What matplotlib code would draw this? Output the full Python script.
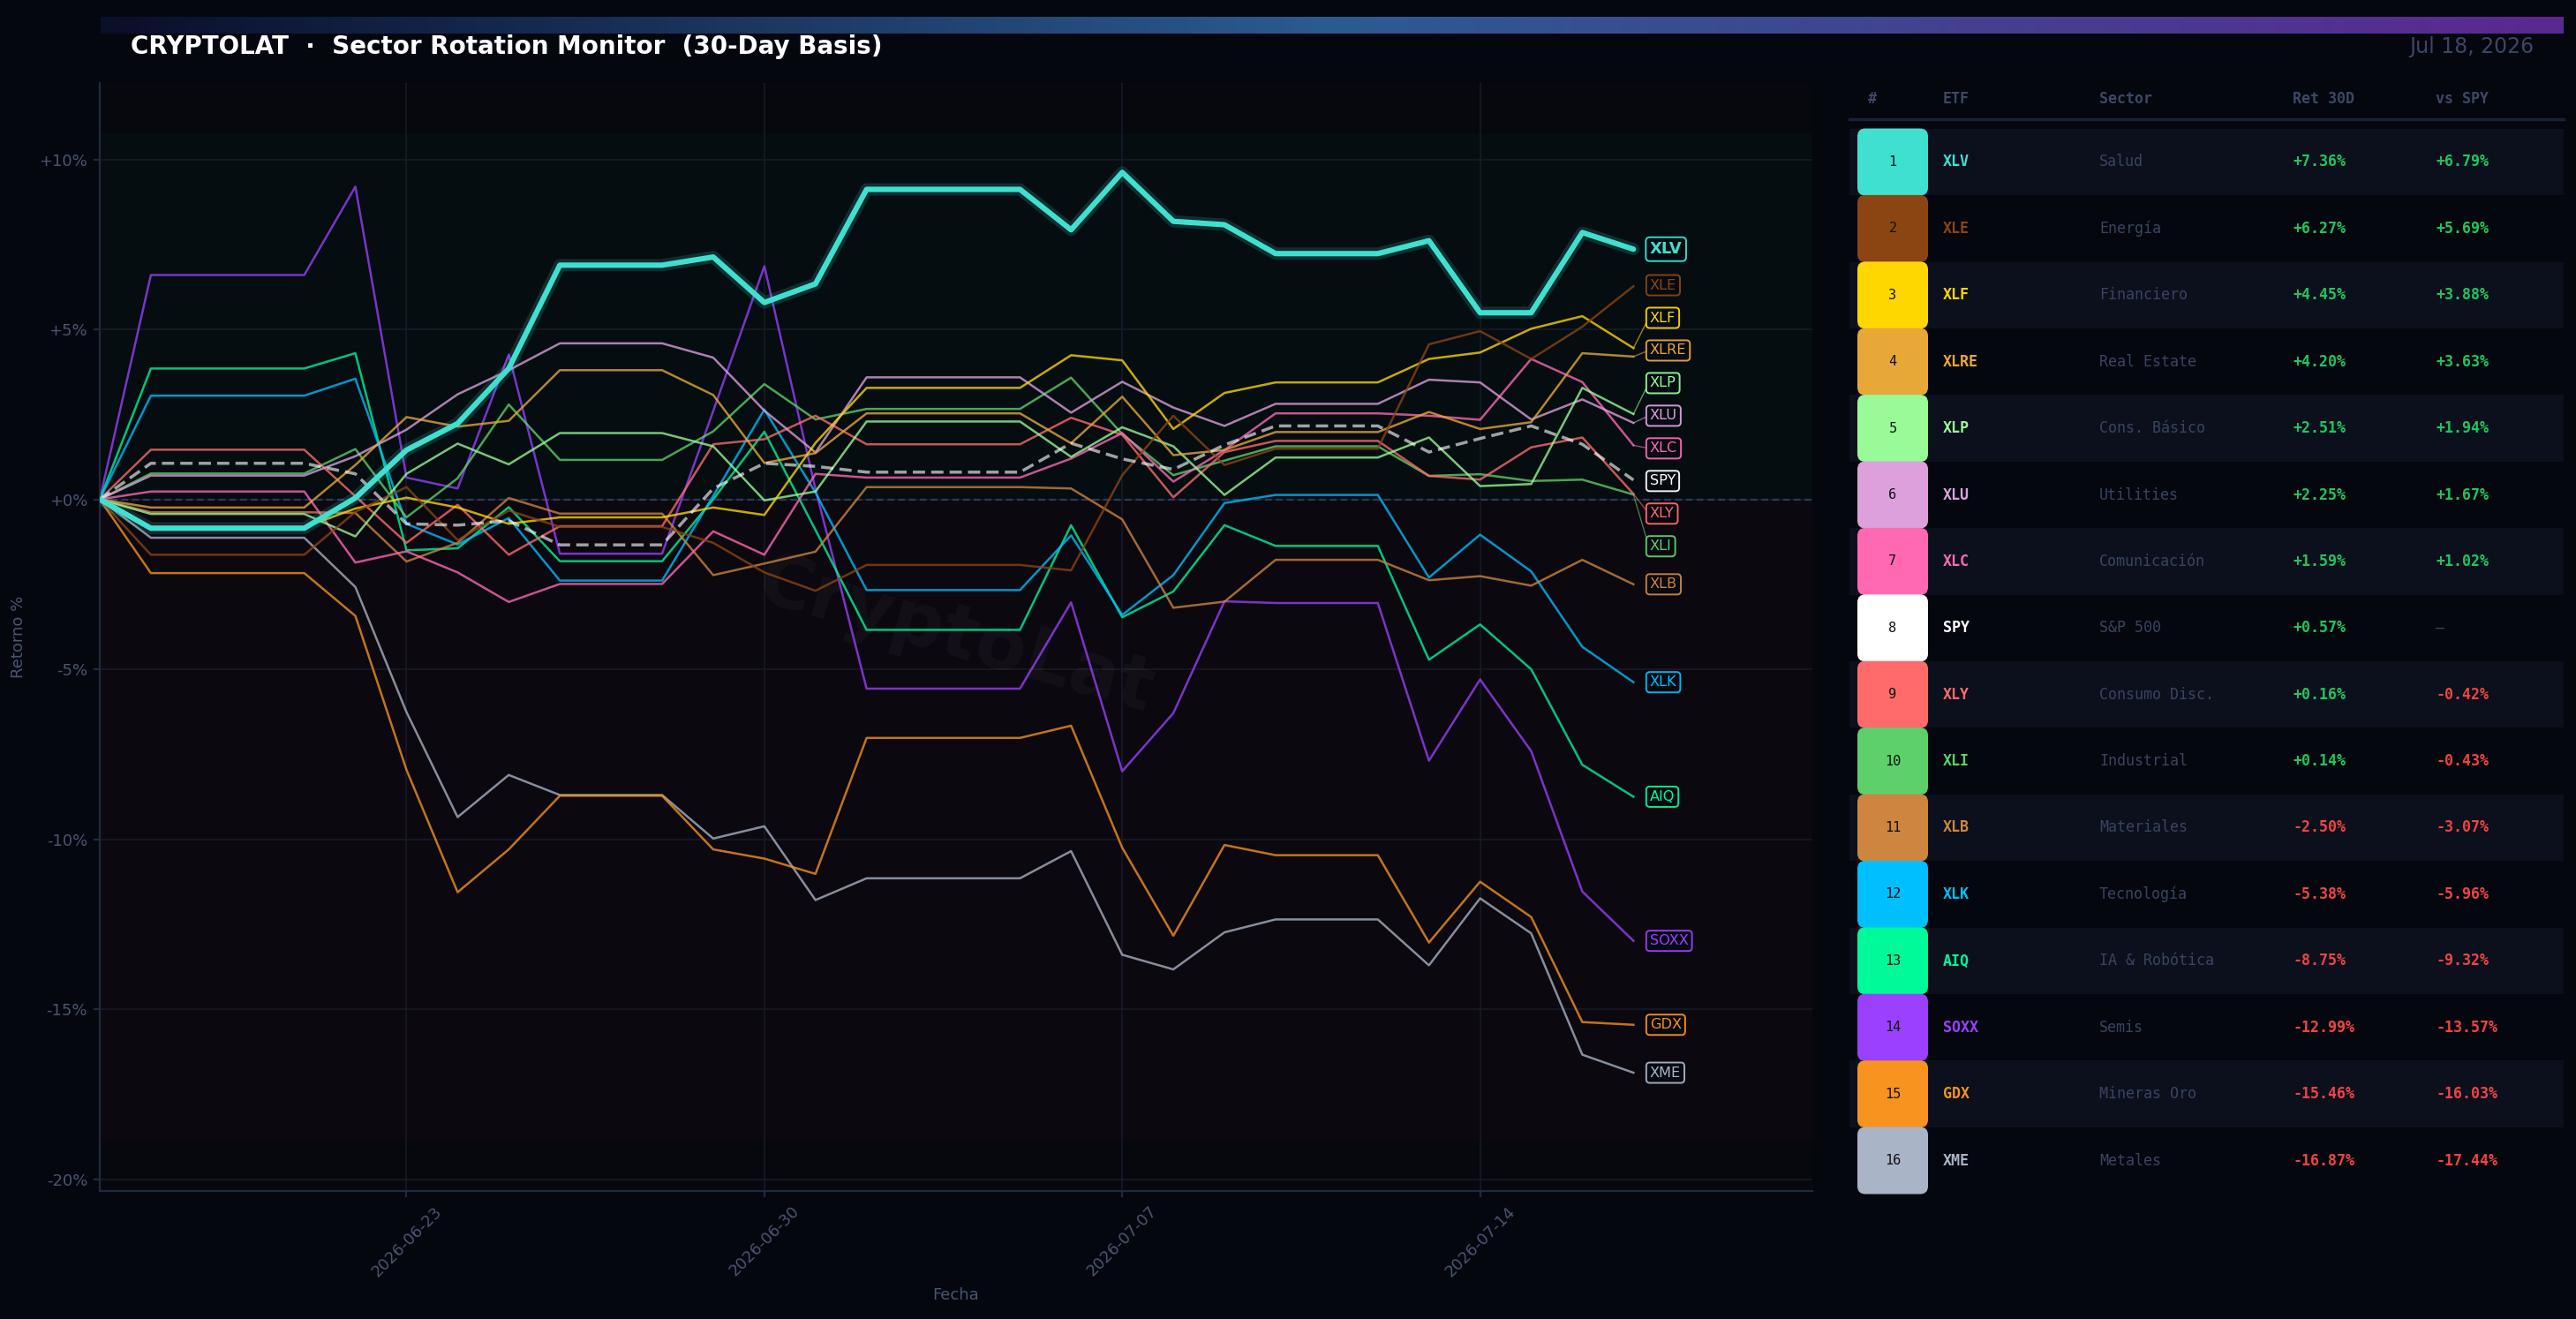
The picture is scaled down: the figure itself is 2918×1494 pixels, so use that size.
import numpy as np
import pandas as pd
import matplotlib
matplotlib.use("Agg")
import matplotlib.pyplot as plt
import matplotlib.dates as mdates
from matplotlib.patches import FancyBboxPatch, Rectangle
from matplotlib.colors import LinearSegmentedColormap

# ---------------- data ----------------
dates = pd.date_range("2026-06-17", "2026-07-17", freq="D")
tick_dates = ["2026-06-23", "2026-06-30", "2026-07-07", "2026-07-14"]

tickers = ["XLV", "XLE", "XLF", "XLRE", "XLP", "XLU", "XLC", "SPY",
           "XLY", "XLI", "XLB", "XLK", "AIQ", "SOXX", "GDX", "XME"]
sectors = ["Salud", "Energía", "Financiero", "Real Estate", "Cons. Básico",
           "Utilities", "Comunicación", "S&P 500", "Consumo Disc.", "Industrial",
           "Materiales", "Tecnología", "IA & Robótica", "Semis", "Mineras Oro", "Metales"]
colors = ["#40E0D0", "#8B4513", "#FFD700", "#E8A838", "#98FB98", "#DDA0DD",
          "#FF69B4", "#FFFFFF", "#FF6B6B", "#5ED06A", "#CD853F", "#00BFFF",
          "#00FA9A", "#9B40FF", "#F7931E", "#A9B4C6"]
ret_30d = [7.36, 6.27, 4.45, 4.20, 2.51, 2.25, 1.59, 0.57,
           0.16, 0.14, -2.50, -5.38, -8.75, -12.99, -15.46, -16.87]
vs_spy = [6.79, 5.69, 3.88, 3.63, 1.94, 1.67, 1.02, None,
          -0.42, -0.43, -3.07, -5.96, -9.32, -13.57, -16.03, -17.44]

xlv = [0, -0.85, -0.85, -0.85, -0.85, 0.04, 1.45, 2.23, 3.85, 6.89, 6.89, 6.89, 7.13, 5.79, 6.34,
       9.12, 9.12, 9.12, 9.12, 7.93, 9.62, 8.18, 8.08, 7.23, 7.23, 7.23, 7.61, 5.49, 5.49, 7.85, 7.36]
xle = [0, -1.63, -1.63, -1.63, -1.63, -0.37, 0.36, -1.20, -0.33, -0.81, -0.81, -0.81, -1.28, -2.15, -2.69,
       -1.93, -1.93, -1.93, -1.93, -2.09, 0.71, 2.46, 1.01, 1.49, 1.49, 1.49, 4.56, 4.95, 4.13, 5.08, 6.27]
xlf = [0, -0.82, -0.82, -0.82, -0.82, -0.27, 0.05, -0.24, -0.72, -0.53, -0.53, -0.53, -0.24, -0.46, 1.66,
       3.28, 3.28, 3.28, 3.28, 4.24, 4.09, 2.07, 3.13, 3.44, 3.44, 3.44, 4.13, 4.32, 5.02, 5.39, 4.45]
xlre = [0, -0.24, -0.24, -0.24, -0.24, 1.01, 2.42, 2.14, 2.31, 3.80, 3.80, 3.80, 3.07, 1.07, 1.36,
        2.53, 2.53, 2.53, 2.53, 1.65, 3.02, 1.30, 1.45, 1.98, 1.98, 1.98, 2.57, 2.07, 2.27, 4.30, 4.20]
xlp = [0, -0.43, -0.43, -0.43, -0.43, -1.09, 0.75, 1.64, 1.03, 1.95, 1.95, 1.95, 1.56, -0.03, 0.23,
       2.29, 2.29, 2.29, 2.29, 1.25, 2.12, 1.56, 0.13, 1.23, 1.23, 1.23, 1.82, 0.39, 0.45, 3.28, 2.51]
xlu = [0, 0.70, 0.70, 0.70, 0.70, 1.27, 2.05, 3.09, 3.80, 4.59, 4.59, 4.59, 4.17, 2.61, 1.38,
       3.59, 3.59, 3.59, 3.59, 2.55, 3.46, 2.70, 2.16, 2.81, 2.81, 2.81, 3.52, 3.44, 2.35, 2.94, 2.25]
xlc = [0, 0.23, 0.23, 0.23, 0.23, -1.86, -1.53, -2.15, -3.02, -2.49, -2.49, -2.49, -0.94, -1.63, 0.75,
       0.64, 0.64, 0.64, 0.64, 1.20, 1.95, 0.52, 1.45, 2.53, 2.53, 2.53, 2.46, 2.34, 4.13, 3.45, 1.59]
spy = [0, 1.06, 1.06, 1.06, 1.06, 0.75, -0.72, -0.76, -0.63, -1.34, -1.34, -1.34, 0.32, 1.06, 0.97,
       0.80, 0.80, 0.80, 0.80, 1.65, 1.19, 0.88, 1.60, 2.16, 2.16, 2.16, 1.39, 1.79, 2.16, 1.62, 0.57]
xly = [0, 1.46, 1.46, 1.46, 1.46, 0.09, -1.28, -0.16, -1.63, -0.79, -0.79, -0.79, 1.62, 1.77, 2.46,
       1.62, 1.62, 1.62, 1.62, 2.40, 1.90, 0.06, 1.39, 1.72, 1.72, 1.72, 0.69, 0.58, 1.53, 1.82, 0.16]
xli = [0, 0.76, 0.76, 0.76, 0.76, 1.48, -0.53, 0.62, 2.79, 1.16, 1.16, 1.16, 2.00, 3.39, 2.35,
       2.66, 2.66, 2.66, 2.66, 3.58, 1.92, 0.71, 1.14, 1.56, 1.56, 1.56, 0.69, 0.74, 0.54, 0.58, 0.14]
xlb = [0, -0.38, -0.38, -0.38, -0.38, -0.40, -1.83, -1.28, 0.04, -0.42, -0.42, -0.42, -2.23, -1.89, -1.54,
       0.36, 0.36, 0.36, 0.36, 0.32, -0.59, -3.19, -3.01, -1.78, -1.78, -1.78, -2.38, -2.26, -2.54, -1.78, -2.50]
xlk = [0, 3.05, 3.05, 3.05, 3.05, 3.55, -0.72, -1.33, -0.55, -2.39, -2.39, -2.39, 0.10, 2.64, 0.20,
       -2.67, -2.67, -2.67, -2.67, -1.06, -3.40, -2.23, -0.11, 0.13, 0.13, 0.13, -2.30, -1.04, -2.12, -4.34, -5.38]
aiq = [0, 3.85, 3.85, 3.85, 3.85, 4.30, -1.50, -1.44, -0.23, -1.82, -1.82, -1.82, 0.00, 1.99, -0.90,
       -3.84, -3.84, -3.84, -3.84, -0.76, -3.47, -2.71, -0.76, -1.37, -1.37, -1.37, -4.72, -3.68, -5.00, -7.81, -8.75]
soxx = [0, 6.60, 6.60, 6.60, 6.60, 9.20, 0.64, 0.32, 4.26, -1.60, -1.60, -1.60, 2.60, 6.86, 0.30,
        -5.57, -5.57, -5.57, -5.57, -3.03, -8.00, -6.29, -3.00, -3.05, -3.05, -3.05, -7.69, -5.30, -7.41, -11.54, -12.99]
gdx = [0, -2.17, -2.17, -2.17, -2.17, -3.43, -7.96, -11.56, -10.30, -8.72, -8.72, -8.72, -10.30, -10.57, -11.02,
       -7.02, -7.02, -7.02, -7.02, -6.66, -10.25, -12.84, -10.17, -10.47, -10.47, -10.47, -13.04, -11.25, -12.29, -15.38, -15.46]
xme = [0, -1.13, -1.13, -1.13, -1.13, -2.58, -6.26, -9.35, -8.11, -8.70, -8.70, -8.70, -9.98, -9.62, -11.79,
       -11.15, -11.15, -11.15, -11.15, -10.35, -13.40, -13.83, -12.74, -12.36, -12.36, -12.36, -13.71, -11.74, -12.77, -16.34, -16.87]

series = [xlv, xle, xlf, xlre, xlp, xlu, xlc, spy, xly, xli, xlb, xlk, aiq, soxx, gdx, xme]

# ---------------- style ----------------
BG = "#05070e"
AX_BG = "#06080e"
TXT_DIM = "#4a5573"
GRID = "#151b28"
SPINE = "#1f2a40"
MONO = "DejaVu Sans Mono"

W, H = 2918, 1494
def fx(px):
    return px / W
def fy(py):
    return 1 - py / H

fig = plt.figure(figsize=(W / 200, H / 200), dpi=200, facecolor=BG)

# gradient bar on top
gax = fig.add_axes([fx(114), fy(38), fx(2904) - fx(114), fy(19) - fy(38)])
cmap = LinearSegmentedColormap.from_list("bar", [(0, "#0a0f2a"), (0.5, "#2b5b92"), (1, "#5b2890")])
gax.imshow(np.linspace(0, 1, 512)[None, :], aspect="auto", cmap=cmap)
gax.axis("off")

fig.text(fx(148), fy(53), "CRYPTOLAT  ·  Sector Rotation Monitor  (30-Day Basis)",
         color="white", fontsize=10, fontweight="bold", ha="left", va="center")
fig.text(fx(2870), fy(53), "Jul 18, 2026", color="#3a4666", fontsize=8.5,
         ha="right", va="center")

# ---------------- main chart ----------------
ax = fig.add_axes([fx(113), fy(1349), fx(2053) - fx(113), fy(94) - fy(1349)])
ax.set_facecolor(AX_BG)
x = mdates.date2num(dates)
day = 1.0

all_vals = np.concatenate([np.array(s) for s in series])
ax.axhspan(0, all_vals.max() * 1.12, color="#00ff99", alpha=0.022, lw=0, zorder=0)
ax.axhspan(all_vals.min() * 1.12, 0, color="#ff2255", alpha=0.028, lw=0, zorder=0)
ax.axhline(0, color="#2c3a5c", lw=0.8, ls=(0, (3.5, 2.0)), zorder=1)

for i in range(len(tickers) - 1, 0, -1):
    t, c, s = tickers[i], colors[i], series[i]
    if t == "SPY":
        ax.plot(x, s, color="white", alpha=0.62, lw=1.25, ls=(0, (4, 2)), zorder=3)
    else:
        ax.plot(x, s, color=c, alpha=0.78, lw=0.9, zorder=2)
# XLV highlighted with glow
ax.plot(x, xlv, color=colors[0], alpha=0.16, lw=5.0, zorder=4, solid_capstyle="round")
ax.plot(x, xlv, color=colors[0], alpha=1.0, lw=2.2, zorder=5, solid_capstyle="round")


# end labels: merge overlapping labels into clusters centred on their mean
def spread_labels(vals, gap):
    clusters = [[i] for i in range(len(vals))]

    def pos(cl):
        m = np.mean([vals[j] for j in cl])
        n = len(cl)
        return [m + gap * ((n - 1) / 2 - k) for k in range(n)]

    changed = True
    while changed:
        changed = False
        for k in range(len(clusters) - 1):
            a, b = pos(clusters[k]), pos(clusters[k + 1])
            if a[-1] - b[0] < gap - 1e-9:
                clusters[k] = clusters[k] + clusters[k + 1]
                del clusters[k + 1]
                changed = True
                break
    out = [0.0] * len(vals)
    for cl in clusters:
        for j, p in zip(cl, pos(cl)):
            out[j] = p
    return out


last_vals = [s[-1] for s in series]
lab_y = spread_labels(last_vals, 0.96)
xe = x[-1]
for i, t in enumerate(tickers):
    v = last_vals[i]
    yl = lab_y[i]
    c = colors[i]
    if abs(v - yl) > 0.08:
        ax.plot([xe, xe + 0.3 * day], [v, yl], color=c, lw=0.5, alpha=0.6, zorder=3)
    ax.text(xe + 0.32 * day, yl, t, color=c, fontsize=6.5 if i == 0 else 5.8,
            fontweight="bold" if i == 0 else "normal", ha="left", va="center", zorder=6,
            bbox=dict(boxstyle="round,pad=0.25", fc="#070a12", ec=c, lw=0.7, alpha=0.95))

ax.text(0.5, 0.5, "CryptoLat", transform=ax.transAxes, fontsize=30, fontweight="bold",
        color="white", alpha=0.035, rotation=-16, ha="center", va="center", zorder=1)

ax.set_xlim(x[0], x[-1] + 3.5 * day)
ax.set_ylim(-20.35, 12.25)
ax.set_yticks([-20, -15, -10, -5, 0, 5, 10])
ax.set_yticklabels([f"{v:+d}%" for v in [-20, -15, -10, -5, 0, 5, 10]])
ax.set_xticks(mdates.date2num(pd.to_datetime(tick_dates)))
ax.set_xticklabels(tick_dates, rotation=45)
ax.grid(True, color=GRID, lw=0.6, zorder=0)
ax.set_axisbelow(True)
for sp in ["top", "right"]:
    ax.spines[sp].set_visible(False)
for sp in ["left", "bottom"]:
    ax.spines[sp].set_color(SPINE)
    ax.spines[sp].set_linewidth(0.8)
ax.tick_params(colors=TXT_DIM, labelsize=6.5, length=2.5, width=0.8, pad=2.5)
ax.tick_params(axis="both", color=SPINE)
ax.set_xlabel("Fecha", color=TXT_DIM, fontsize=6.5, labelpad=3)
ax.set_ylabel("Retorno %", color=TXT_DIM, fontsize=6.5, labelpad=5)

# ---------------- ranking table ----------------
tax = fig.add_axes([fx(2080), fy(1400), fx(2918) - fx(2080), fy(80) - fy(1400)])
tax.set_xlim(2080, 2918)
tax.set_ylim(1400, 80)
tax.axis("off")

col_x = {"#": 2116, "ETF": 2201, "Sector": 2378, "Ret 30D": 2597, "vs SPY": 2759}
for k, xx in col_x.items():
    tax.text(xx, 112, k, color="#3d4866", fontsize=6, fontweight="bold",
             family=MONO, ha="left", va="center")
tax.plot([2095, 2904], [135, 135], color="#1a2238", lw=1.2)

row_h = 75.4
GREEN = "#22c55e"
RED = "#f04444"
for i, t in enumerate(tickers):
    cy = 183.5 + row_h * i
    if i % 2 == 0:
        tax.add_patch(Rectangle((2095, cy - row_h / 2), 809, row_h, fc="#0b101c", ec="none", zorder=1))
    r = 9
    tax.add_patch(FancyBboxPatch((2104 + r, cy - 38 + r), 80 - 2 * r, 76 - 2 * r,
                                 boxstyle=f"round,pad={r},rounding_size={r}",
                                 fc=colors[i], ec="none", zorder=2))
    tax.text(2144, cy, str(i + 1), color="#111111", fontsize=5.5, family=MONO,
             ha="center", va="center", zorder=3)
    tax.text(col_x["ETF"], cy, t, color=colors[i], fontsize=6, fontweight="bold",
             family=MONO, ha="left", va="center", zorder=3)
    tax.text(col_x["Sector"], cy, sectors[i], color="#3a4462", fontsize=6,
             family=MONO, ha="left", va="center", zorder=3)
    rv = ret_30d[i]
    tax.text(col_x["Ret 30D"], cy, f"{rv:+.2f}%", color=GREEN if rv >= 0 else RED,
             fontsize=6, fontweight="bold", family=MONO, ha="left", va="center", zorder=3)
    sv = vs_spy[i]
    if sv is None:
        tax.text(col_x["vs SPY"], cy, "—", color="#3a4462", fontsize=6,
                 family=MONO, ha="left", va="center", zorder=3)
    else:
        tax.text(col_x["vs SPY"], cy, f"{sv:+.2f}%", color=GREEN if sv >= 0 else RED,
                 fontsize=6, fontweight="bold", family=MONO, ha="left", va="center", zorder=3)

fig.savefig("out.png", dpi=200, facecolor=BG)
